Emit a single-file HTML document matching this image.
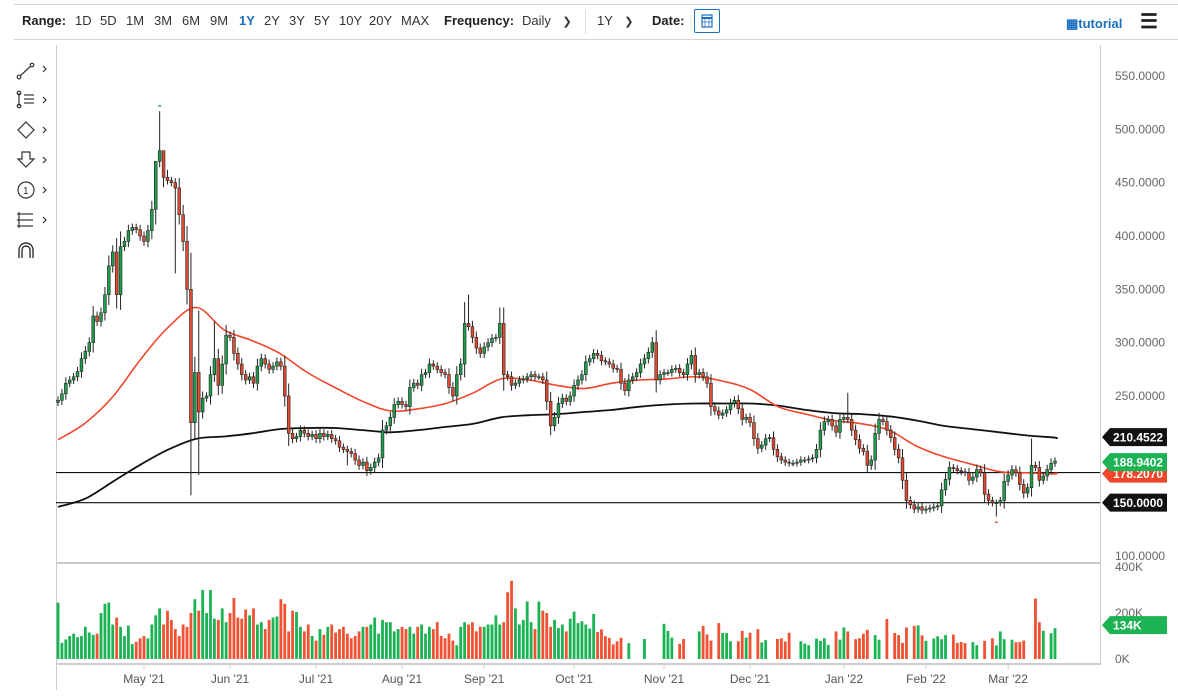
<!DOCTYPE html>
<html><head><meta charset="utf-8">
<style>
body{margin:0;background:#fff;font-family:"Liberation Sans",sans-serif;}
#wrap{position:relative;width:1178px;height:698px;overflow:hidden;}
.tb{position:absolute;top:13px;font-size:13px;color:#333;white-space:nowrap;}
.b{font-weight:bold;color:#222;}
</style></head><body>
<div id="wrap">
<div style="position:absolute;left:14px;top:4px;width:1164px;height:1px;background:#d4d4d4"></div>
<div style="position:absolute;left:14px;top:39px;width:1164px;height:1px;background:#d4d4d4"></div>
<span class="tb b" style="left:22px">Range:</span>
<span class="tb" style="left:75px">1D</span>
<span class="tb" style="left:100px">5D</span>
<span class="tb" style="left:126px">1M</span>
<span class="tb" style="left:154px">3M</span>
<span class="tb" style="left:182px">6M</span>
<span class="tb" style="left:210px">9M</span>
<span class="tb" style="left:239px;color:#1a6fc0;font-weight:bold">1Y</span>
<span class="tb" style="left:264px">2Y</span>
<span class="tb" style="left:289px">3Y</span>
<span class="tb" style="left:314px">5Y</span>
<span class="tb" style="left:339px">10Y</span>
<span class="tb" style="left:369px">20Y</span>
<span class="tb" style="left:401px">MAX</span>
<span class="tb b" style="left:444px">Frequency:</span>
<span class="tb" style="left:522px">Daily <span style="margin-left:8px;font-size:11px">&#10095;</span></span>
<div style="position:absolute;left:585px;top:10px;width:1px;height:24px;background:#ddd"></div>
<span class="tb" style="left:597px">1Y <span style="margin-left:8px;font-size:11px">&#10095;</span></span>
<span class="tb b" style="left:652px">Date:</span>
<div style="position:absolute;left:694px;top:9px;width:24px;height:22px;border:1px solid #1a6fc0;border-radius:2px">
<svg width="24" height="22"><rect x="7" y="5" width="10" height="12" fill="none" stroke="#1a6fc0" stroke-width="1.2"/><line x1="7" y1="8" x2="17" y2="8" stroke="#1a6fc0" stroke-width="2"/><line x1="10" y1="9" x2="10" y2="17" stroke="#1a6fc0" stroke-width=".7"/><line x1="14" y1="9" x2="14" y2="17" stroke="#1a6fc0" stroke-width=".7"/><line x1="7" y1="12" x2="17" y2="12" stroke="#1a6fc0" stroke-width=".7"/></svg></div>
<span class="tb" style="left:1066px;top:16px;color:#1a6fc0;font-weight:bold">&#9638;tutorial</span>
<span class="tb" style="left:1140px;top:9px;font-size:20px;font-weight:bold;color:#222">&#9776;</span>

<svg id="chart" width="1178" height="698" style="position:absolute;left:0;top:0">
<g stroke="#333" fill="none" stroke-width="1.2">
<g><line x1="20" y1="76" x2="31" y2="66"/><circle cx="19" cy="77" r="1.8"/><circle cx="32" cy="65" r="1.8"/><path d="M43 66 l3 3 -3 3"/></g>
<g><line x1="19" y1="93" x2="19" y2="106"/><circle cx="19" cy="93" r="1.8"/><circle cx="19" cy="106" r="1.8"/><line x1="24" y1="95" x2="34" y2="95"/><line x1="24" y1="99" x2="34" y2="99"/><line x1="24" y1="103" x2="34" y2="103"/><path d="M43 97 l3 3 -3 3"/></g>
<g><path d="M26 122 L34 130 L26 138 L18 130 Z"/><path d="M43 127 l3 3 -3 3"/></g>
<g><path d="M22 152 h8 v7 h4 l-8 8 -8 -8 h4 z"/><path d="M43 157 l3 3 -3 3"/></g>
<g><circle cx="26" cy="190" r="8"/><text x="23" y="194" font-size="10" fill="#333" stroke="none" font-family="Liberation Sans">1</text><path d="M43 187 l3 3 -3 3"/></g>
<g><line x1="19" y1="212" x2="19" y2="228"/><line x1="17" y1="214" x2="33" y2="214"/><line x1="17" y1="220" x2="33" y2="220"/><line x1="17" y1="226" x2="33" y2="226"/><path d="M43 217 l3 3 -3 3"/></g>
<g><path d="M19 258 v-8 a7 7 0 0 1 14 0 v8 M22 258 v-8 a4 4 0 0 1 8 0 v8" stroke-width="1.4"/></g>
</g>
<line x1="56.5" y1="45" x2="56.5" y2="690" stroke="#ccc"/>
<line x1="1100.5" y1="45" x2="1100.5" y2="665" stroke="#ccc"/>
<line x1="56" y1="563" x2="1100" y2="563" stroke="#ccc" stroke-width="2"/>
<line x1="56" y1="664" x2="1100" y2="664" stroke="#ccc" stroke-width="2"/>
<g id="g-ylab" font-size="12" fill="#666"></g>
<g id="g-hl"></g>
<g id="g-vol"></g>
<g id="g-ma"></g>
<g id="g-candles"></g>
<g id="g-x" font-size="12" fill="#555"></g>
<g id="g-tags" font-size="12" font-weight="bold" fill="#fff"></g>
</svg>
</div>
<script>
const closes=[
246,252,262,265,268,273,285, 292,300,325,320,328,345,372, 385,345,390,395,405,408,406,
400,395,405,425,470,480,455, 452,450,445,420,395,350,225, 272,235,248,250,270,285,260,
280,307,305,290,280,270,265, 268,262,278,285,280,275,278, 282,278,250,215,210,212,218,
215,212,214,210,215,212,214, 210,208,202,200,198,196,190, 185,188,180,183,188,192,218,
222,230,242,245,242,240,258, 262,260,270,272,280,278,275, 272,270,258,250,270,280,318,
315,305,295,290,296,300,304, 305,318,270,268,260,262,265, 266,268,270,268,268,265,245,
222,230,243,248,245,250,260, 265,270,282,285,290,288,283, 282,280,276,275,262,255,265,
268,272,280,285,291,300,265, 270,272,272,275,276,272,270, 280,288,270,272,268,262,240,
236,232,234,237,243,246,238, 228,230,225,210,201,204,210, 211,200,193,190,188,187,187,
188,190,190,191,192,200,218, 226,228,222,216,228,230,228, 218,209,201,198,185,190,215,
228,226,218,211,200,192,171, 152,148,144,146,143,144,145, 146,147,162,172,183,182,180,
179,178,171,174,181,178,158, 152,150,150,152,170,176,181, 178,167,159,164,185,183,171,
175,181,187,189];
const firstOpen=244;
const highSpikes=[[25,440],[26,517],[27,470],[28,462],[36,330],[40,320],[104,338],[105,345],[113,333],[202,253],[249,210]];
const lowSpikes=[[34,157],[36,176],[30,365],[74,185],[240,137]];
const volumes=[
245,70,85,100,110,95,100,140,115,105,110,200,240,245,150,180,
140,100,145,65,75,90,100,90,150,190,
220,150,210,170,130,100,150,140,200,260,
210,300,200,300,175,170,220,160,200,265,
180,175,215,190,220,150,160,130,170,180,
185,260,240,120,210,205,140,120,150,100,
80,130,105,140,150,115,130,140,110,90,
100,120,140,140,150,180,110,170,160,160,
120,130,140,130,140,110,140,150,110,140,
130,160,100,90,110,80,60,140,160,150,
160,120,140,140,150,150,190,150,160,290,
340,220,150,170,250,160,130,250,210,200,
140,170,135,150,120,175,
206,156,164,150,132,196,117,129,99,92,64,77,92,
0,69,0,0,0,87,0,0,0,0,153,122,93,0,66,87,0,0,0,120,144,107,80,0,156,113,113,77,0,77,122,93,114,0,
130,72,82,0,0,87,90,76,114,0,0,77,67,60,0,89,79,90,61,0,120,84,137,120,0,86,90,110,127,0,104,84,0,174,0,
113,104,70,137,0,144,146,103,79,0,89,99,86,104,0,106,70,74,69,0,73,60,0,79,0,90,59,120,86,0,84,73,74,80,0,0,263,160,123,0,112,134];
const ma50=[209,225,250,285,315,333,312,302,290,272,258,245,236,238,243,253,266,265,260,257,262,265,266,268,264,256,240,233,227,224,218,203,193,186,179,178,177,178.2];
const ma200=[146,154,170,186,200,210,212,215,219,220,220,218,216,218,221,224,230,232,233,235,237,240,242,243,243,243,241,237,234,233,231,227,222,219,216,213,211,210.45];
const priceTicks=[550,500,450,400,350,300,250,100];
const volTicks=[400,200,0];
const monthLabels=["May '21","Jun '21","Jul '21","Aug '21","Sep '21","Oct '21","Nov '21","Dec '21","Jan '22","Feb '22","Mar '22"];
const monthStartIdx=[22,44,66,88,109,132,155,177,201,222,243];
const levels=[178.2,150];
const tagLast200=210.4522, tagLastClose=188.9402, tagLast50=178.2070, tagLevel=150.0000, tagVol=134;

const NS="http://www.w3.org/2000/svg";
const N=closes.length;
const X0=58,X1=1055;
function xOf(i){return X0+i*(X1-X0)/(N-1);}
function yP(v){return 556-(v-100)*480/450;}
function yV(k){return 659-k*0.23;}
function mk(tag,attrs,parent){const e=document.createElementNS(NS,tag);for(const k in attrs)e.setAttribute(k,attrs[k]);parent.appendChild(e);return e;}
const gY=document.getElementById('g-ylab'),gC=document.getElementById('g-candles'),gV=document.getElementById('g-vol'),gM=document.getElementById('g-ma'),gX=document.getElementById('g-x'),gT=document.getElementById('g-tags'),gH=document.getElementById('g-hl');

priceTicks.forEach(v=>{const t=mk('text',{x:1115,y:yP(v)+4},gY);t.textContent=v.toFixed(4);

});
volTicks.forEach(v=>{const t=mk('text',{x:1115,y:yV(v)+4,fill:'#666'},gY);t.textContent=v+'K';

});

levels.forEach(v=>{const l=mk('line',{x1:56,x2:1100,y1:yP(v),y2:yP(v),stroke:'#111','stroke-width':1.2},gH);

});

const opens=closes.map((c,i)=>i===0?firstOpen:closes[i-1]);
const hiMap={},loMap={};highSpikes.forEach(p=>hiMap[p[0]]=p[1]);lowSpikes.forEach(p=>loMap[p[0]]=p[1]);
const bw=Math.max(2,(X1-X0)/(N-1)*0.72);
closes.forEach((c,i)=>{
 const o=opens[i],up=c>=o,x=xOf(i);
 const w=3+Math.abs(c-o)*0.25;
 const hi=hiMap[i]!==undefined?hiMap[i]:Math.max(o,c)+w;
 const lo=loMap[i]!==undefined?loMap[i]:Math.min(o,c)-w;
 const wk=mk('line',{x1:x,x2:x,y1:yP(hi),y2:yP(lo),stroke:'#222','stroke-width':1},gC);
 
 
 const top=yP(Math.max(o,c)),bot=yP(Math.min(o,c));
 const r=mk('rect',{x:x-bw/2,y:top,width:bw,height:Math.max(1,bot-top),fill:up?'#1e9e4c':'#e04a2f',stroke:'#222','stroke-width':0.6},gC);
 
 
 const vv=volumes[i]||0;
 if(vv>0){const b=mk('rect',{x:x-bw/2,y:yV(vv),width:bw,height:659-yV(vv),fill:up?'#1bb354':'#f05234'},gV);
 
 }
});
function maPath(arr,color,name,wd){
 const pts=arr.map((v,k)=>{const idx=k<arr.length-1?k*(N-1)/36:N-1;return [xOf(Math.min(idx,N-1)),yP(v)];});
 let d='M'+pts[0][0].toFixed(1)+' '+pts[0][1].toFixed(1);
 for(let k=0;k<pts.length-1;k++){
  const p0=pts[Math.max(0,k-1)],p1=pts[k],p2=pts[k+1],p3=pts[Math.min(pts.length-1,k+2)];
  const c1x=p1[0]+(p2[0]-p0[0])/6,c1y=p1[1]+(p2[1]-p0[1])/6;
  const c2x=p2[0]-(p3[0]-p1[0])/6,c2y=p2[1]-(p3[1]-p1[1])/6;
  d+=' C'+c1x.toFixed(1)+' '+c1y.toFixed(1)+' '+c2x.toFixed(1)+' '+c2y.toFixed(1)+' '+p2[0].toFixed(1)+' '+p2[1].toFixed(1);
 }
 const p=mk('path',{d:d,fill:'none',stroke:color,'stroke-width':wd},gM);
 
 
}
maPath(ma200,'#111','sma-200-line',1.8);
maPath(ma50,'#f0462a','sma-50-line',1.6);
const peakI=closes.indexOf(Math.max(...closes));
const pk=mk('rect',{x:xOf(peakI)-1.5,y:yP(hiMap[peakI]||Math.max(...closes))-6,width:3,height:1.5,fill:'#1bb354'},gC);


const lowI=240;
const lm=mk('rect',{x:xOf(lowI)-1.5,y:yP(loMap[lowI])+5,width:3,height:1.5,fill:'#f05234'},gC);



monthLabels.forEach((m,k)=>{const x=xOf(monthStartIdx[k]);
 const tk=mk('line',{x1:x,x2:x,y1:664,y2:669,stroke:'#ccc'},gX);
 
 
 const t=mk('text',{x:x,y:683,'text-anchor':'middle'},gX);t.textContent=m;
 
 });

function tag(y,color,txt,name){
 const g=mk('g',{},gT);
 
 
 mk('polygon',{points:`1102,${y} 1110,${y-9} 1167,${y-9} 1167,${y+9} 1110,${y+9}`,fill:color},g);
 const t=mk('text',{x:1113,y:y+4.5},g);t.textContent=txt;
}
tag(yP(tagLast50)+1,'#f0462a',tagLast50.toFixed(4),'sma-50-tag');
tag(yP(tagLast200)-1,'#111',tagLast200.toFixed(4),'sma-200-tag');
tag(yP(tagLastClose)+1,'#1bb354',tagLastClose.toFixed(4),'last-price-tag');
tag(yP(tagLevel),'#111',tagLevel.toFixed(4),'level-150-tag');
tag(yV(tagVol)-3,'#1bb354',tagVol+'K','last-volume-tag');
</script>
</body></html>
